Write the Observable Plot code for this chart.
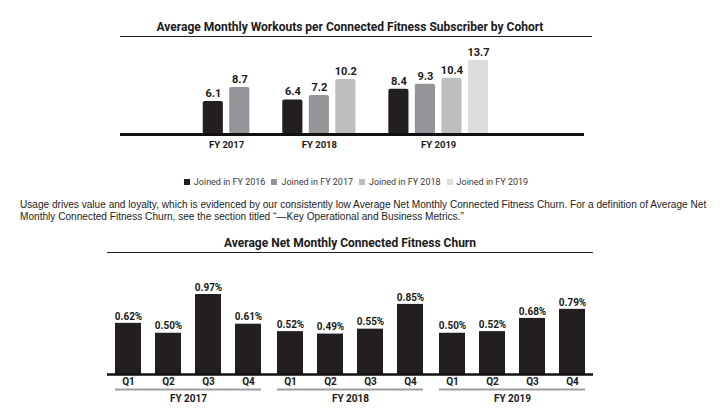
<!DOCTYPE html>
<html>
<head>
<meta charset="utf-8">
<script src="https://cdn.jsdelivr.net/npm/d3@7"></script>
<script src="https://cdn.jsdelivr.net/npm/@observablehq/plot@0.6"></script>
<style>
  html, body { margin: 0; padding: 0; background: #fff; }
  #page { position: relative; width: 720px; height: 417px; overflow: hidden; font-family: Roboto, sans-serif; color: #1a1a1a; }
  .title { position: absolute; font-family: Roboto, sans-serif; font-weight: 700; font-size: 12px; line-height: 14px; text-align: center; border-bottom: 1.5px solid #222; padding-bottom: 2px; color: #1a1a1a; }
  #t1 { left: 120px; width: 460px; padding-right: 12px; top: 20px; }
  #t2 { left: 107px; width: 486px; top: 236px; }
  #c1 { position: absolute; left: 0; top: 40px; }
  #c2 { position: absolute; left: 0; top: 260px; }
  #legend { position: absolute; left: 0; width: 712px; top: 175px; display: flex; justify-content: center; gap: 6px; font-family: Roboto, sans-serif; font-size: 9px; line-height: 14px; color: #3a3a3a; }
  #legend .item { display: flex; align-items: center; gap: 4px; }
  #legend .sw { width: 6px; height: 6px; display: inline-block; }
  #para { position: absolute; left: 20px; top: 199px; font-family: "Liberation Sans", Arial, sans-serif; font-size: 10.1px; line-height: 12px; color: #222; white-space: nowrap; }
  #c2 svg g[aria-label^="x-axis"] text, #c2 svg .tick text { font-weight: 700; font-size: 10px; fill: #1a1a1a; }
</style>
</head>
<body>
<div id="page">
  <div class="title" id="t1"></div>
  <div id="c1"></div>
  <div id="legend"></div>
  <div id="para"></div>
  <div class="title" id="t2"></div>
  <div id="c2"></div>
</div>
<script>
// ---------- Data ----------
const title1 = "Average Monthly Workouts per Connected Fitness Subscriber by Cohort";
const title2 = "Average Net Monthly Connected Fitness Churn";
const paraLine1 = "Usage drives value and loyalty, which is evidenced by our consistently low Average Net Monthly Connected Fitness Churn. For a definition of Average Net";
const paraLine2 = "Monthly Connected Fitness Churn, see the section titled \u201c\u2014Key Operational and Business Metrics.\u201d";

const fiscalYears = ["FY 2017", "FY 2018", "FY 2019"];
const cohorts = ["Joined in FY 2016", "Joined in FY 2017", "Joined in FY 2018", "Joined in FY 2019"];
const cohortColors = ["#231f20", "#939598", "#bcbec0", "#dcdddf"];
const workouts2017 = [6.1, 8.7];
const workouts2018 = [6.4, 7.2, 10.2];
const workouts2019 = [8.4, 9.3, 10.4, 13.7];

const quarters = ["Q1", "Q2", "Q3", "Q4"];
const churn2017 = [0.62, 0.50, 0.97, 0.61];
const churn2018 = [0.52, 0.49, 0.55, 0.85];
const churn2019 = [0.50, 0.52, 0.68, 0.79];

// ---------- Titles / text ----------
document.getElementById("t1").textContent = title1;
document.getElementById("t2").textContent = title2;
const para = document.getElementById("para");
para.appendChild(document.createTextNode(paraLine1));
para.appendChild(document.createElement("br"));
para.appendChild(document.createTextNode(paraLine2));

// ---------- Chart 1 ----------
const workoutGroups = [workouts2017, workouts2018, workouts2019];
const rows1 = [];
const groupRows = [];
let slot = 0;
workoutGroups.forEach((vals, g) => {
  const slots = [];
  vals.forEach((v, i) => {
    rows1.push({year: fiscalYears[g], cohort: cohorts[i], value: v, slot});
    slots.push(slot);
    slot++;
  });
  groupRows.push({year: fiscalYears[g], slot: d3.mean(slots)});
  slot++; // gap between groups
});

const chart1 = Plot.plot({
  width: 720,
  height: 130,
  marginLeft: 120,
  marginRight: 136,
  marginTop: 20,
  marginBottom: 36,
  style: {fontFamily: "Roboto, sans-serif", background: "transparent"},
  x: {domain: [-3.5, 14], axis: null},
  y: {domain: [0, 13.7], axis: null},
  color: {domain: cohorts, range: cohortColors},
  marks: [
    Plot.rectY(rows1, {x1: d => d.slot - 0.38, x2: d => d.slot + 0.38, y: "value", fill: "cohort", rx: 2}),
    Plot.text(rows1, {x: "slot", y: "value", text: d => d.value.toFixed(1), dy: -8, fontSize: 11, fontWeight: 700, fill: "#1a1a1a"}),
    Plot.ruleY([0], {stroke: "#111", strokeWidth: 3}),
    Plot.text(groupRows, {x: "slot", text: "year", frameAnchor: "bottom", dy: 13, fontSize: 9.5, fontWeight: 700, fill: "#1a1a1a"})
  ]
});
document.getElementById("c1").appendChild(chart1);

// Legend
const legend = document.getElementById("legend");
cohorts.forEach((c, i) => {
  const item = document.createElement("span");
  item.className = "item";
  const sw = document.createElement("span");
  sw.className = "sw";
  sw.style.background = cohortColors[i];
  item.appendChild(sw);
  item.appendChild(document.createTextNode(c));
  legend.appendChild(item);
});

// ---------- Chart 2 ----------
const churnGroups = [churn2017, churn2018, churn2019];
const rows2 = [];
churnGroups.forEach((vals, g) => vals.forEach((v, i) => rows2.push({year: fiscalYears[g], q: quarters[i], value: v})));

const chart2 = Plot.plot({
  width: 720,
  height: 157,
  marginLeft: 107,
  marginRight: 127,
  marginTop: 34,
  marginBottom: 43,
  style: {fontFamily: "Roboto, sans-serif", background: "transparent", fontSize: "10px", color: "#1a1a1a"},
  fx: {domain: fiscalYears, padding: 0, axis: null},
  x: {domain: quarters, paddingInner: 0.35, paddingOuter: 0.2, tickSize: 0, tickPadding: 3, label: null},
  y: {domain: [0, 0.97], axis: null},
  marks: [
    Plot.barY(rows2, {fx: "year", x: "q", y: "value", fill: "#231f20"}),
    Plot.text(rows2, {fx: "year", x: "q", y: "value", text: d => d.value.toFixed(2) + "%", dy: -7, fontSize: 10, fontWeight: 700, fill: "#1a1a1a"}),
    Plot.ruleY([0], {stroke: "#111", strokeWidth: 2.5}),
    Plot.ruleY([0], {dy: 15, insetLeft: 8, insetRight: 8, stroke: "#9d9d9d", strokeWidth: 2}),
    Plot.text(fiscalYears, {fx: d => d, text: d => d, frameAnchor: "bottom", dy: 27, fontSize: 10, fontWeight: 700, fill: "#1a1a1a"})
  ]
});
document.getElementById("c2").appendChild(chart2);
</script>
</body>
</html>
